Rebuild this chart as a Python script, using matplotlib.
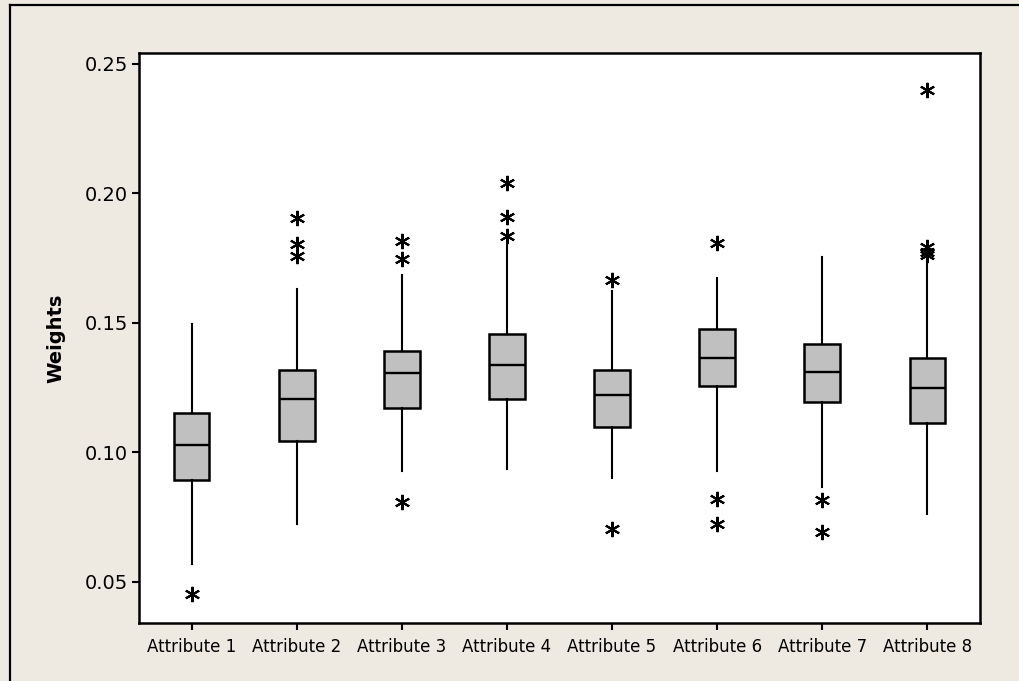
import matplotlib
matplotlib.use("Agg")
import matplotlib.pyplot as plt
from matplotlib.lines import Line2D

# values (Minitab style boxplot)
labels = ["Attribute 1", "Attribute 2", "Attribute 3", "Attribute 4",
          "Attribute 5", "Attribute 6", "Attribute 7", "Attribute 8"]
whisker_low = [0.0567, 0.0722, 0.0928, 0.0933, 0.0899, 0.0926, 0.0864, 0.0762]
q1 = [0.0891, 0.1043, 0.1172, 0.1206, 0.1098, 0.1256, 0.1194, 0.1112]
median = [0.1029, 0.1206, 0.1304, 0.1338, 0.1221, 0.1365, 0.1311, 0.1248]
q3 = [0.1151, 0.1317, 0.1392, 0.1455, 0.1317, 0.1474, 0.1418, 0.1365]
whisker_high = [0.1494, 0.1629, 0.1684, 0.1800, 0.1622, 0.1671, 0.1753, 0.1742]
outliers = [
    [0.0452],
    [0.1903, 0.1804, 0.1758],
    [0.1817, 0.1745, 0.0808],
    [0.2041, 0.1907, 0.1835],
    [0.1665, 0.0702],
    [0.1809, 0.0820, 0.0722],
    [0.0815, 0.0692],
    [0.2398, 0.1794, 0.1775, 0.1762],
]
y_ticks = [0.05, 0.10, 0.15, 0.20, 0.25]

BG = "#EEEAE1"

fig = plt.figure(figsize=(10.19, 6.81), dpi=100, facecolor=BG)
ax = fig.add_axes([0.1364, 0.0852, 0.9617 - 0.1364, 0.9222 - 0.0852])
ax.set_facecolor("white")

stats = []
for i, lab in enumerate(labels):
    stats.append({
        "label": lab,
        "whislo": whisker_low[i],
        "q1": q1[i],
        "med": median[i],
        "q3": q3[i],
        "whishi": whisker_high[i],
        "fliers": outliers[i],
    })

ax.bxp(stats, positions=range(1, len(labels) + 1), widths=0.34,
       patch_artist=True, showcaps=False,
       boxprops=dict(facecolor="#C0C0C0", edgecolor="black", linewidth=1.8),
       medianprops=dict(color="black", linewidth=1.7),
       whiskerprops=dict(color="black", linewidth=1.5),
       flierprops=dict(marker=(6, 2, 0), markersize=11, markeredgewidth=1.5,
                       markeredgecolor="black", markerfacecolor="black",
                       linestyle="none"))

ax.set_xlim(0.5, len(labels) + 0.5)
ax.set_ylim(0.0340, 0.2542)
ax.set_yticks(y_ticks)
ax.set_yticklabels([f"{t:.2f}" for t in y_ticks], fontsize=14)
ax.set_xticks(range(1, len(labels) + 1))
ax.set_xticklabels(labels, fontsize=12)
ax.tick_params(axis="both", direction="out", length=5, width=1.5, color="black",
               top=False, right=False)
ax.tick_params(axis="y", pad=3)
ax.tick_params(axis="x", pad=6)
for sp in ax.spines.values():
    sp.set_linewidth(1.8)
    sp.set_color("black")

ax.set_ylabel("Weights", fontsize=14, fontweight="bold", labelpad=14)

# outer frame (left and top edges visible in the reference)
x0 = 10 / 1019
y0 = 1 - 5 / 681
fig.add_artist(Line2D([x0, x0], [0, y0], transform=fig.transFigure, color="black", lw=1.6))
fig.add_artist(Line2D([x0, 1], [y0, y0], transform=fig.transFigure, color="black", lw=1.6))

fig.savefig("out.png", dpi=100, facecolor=BG)
